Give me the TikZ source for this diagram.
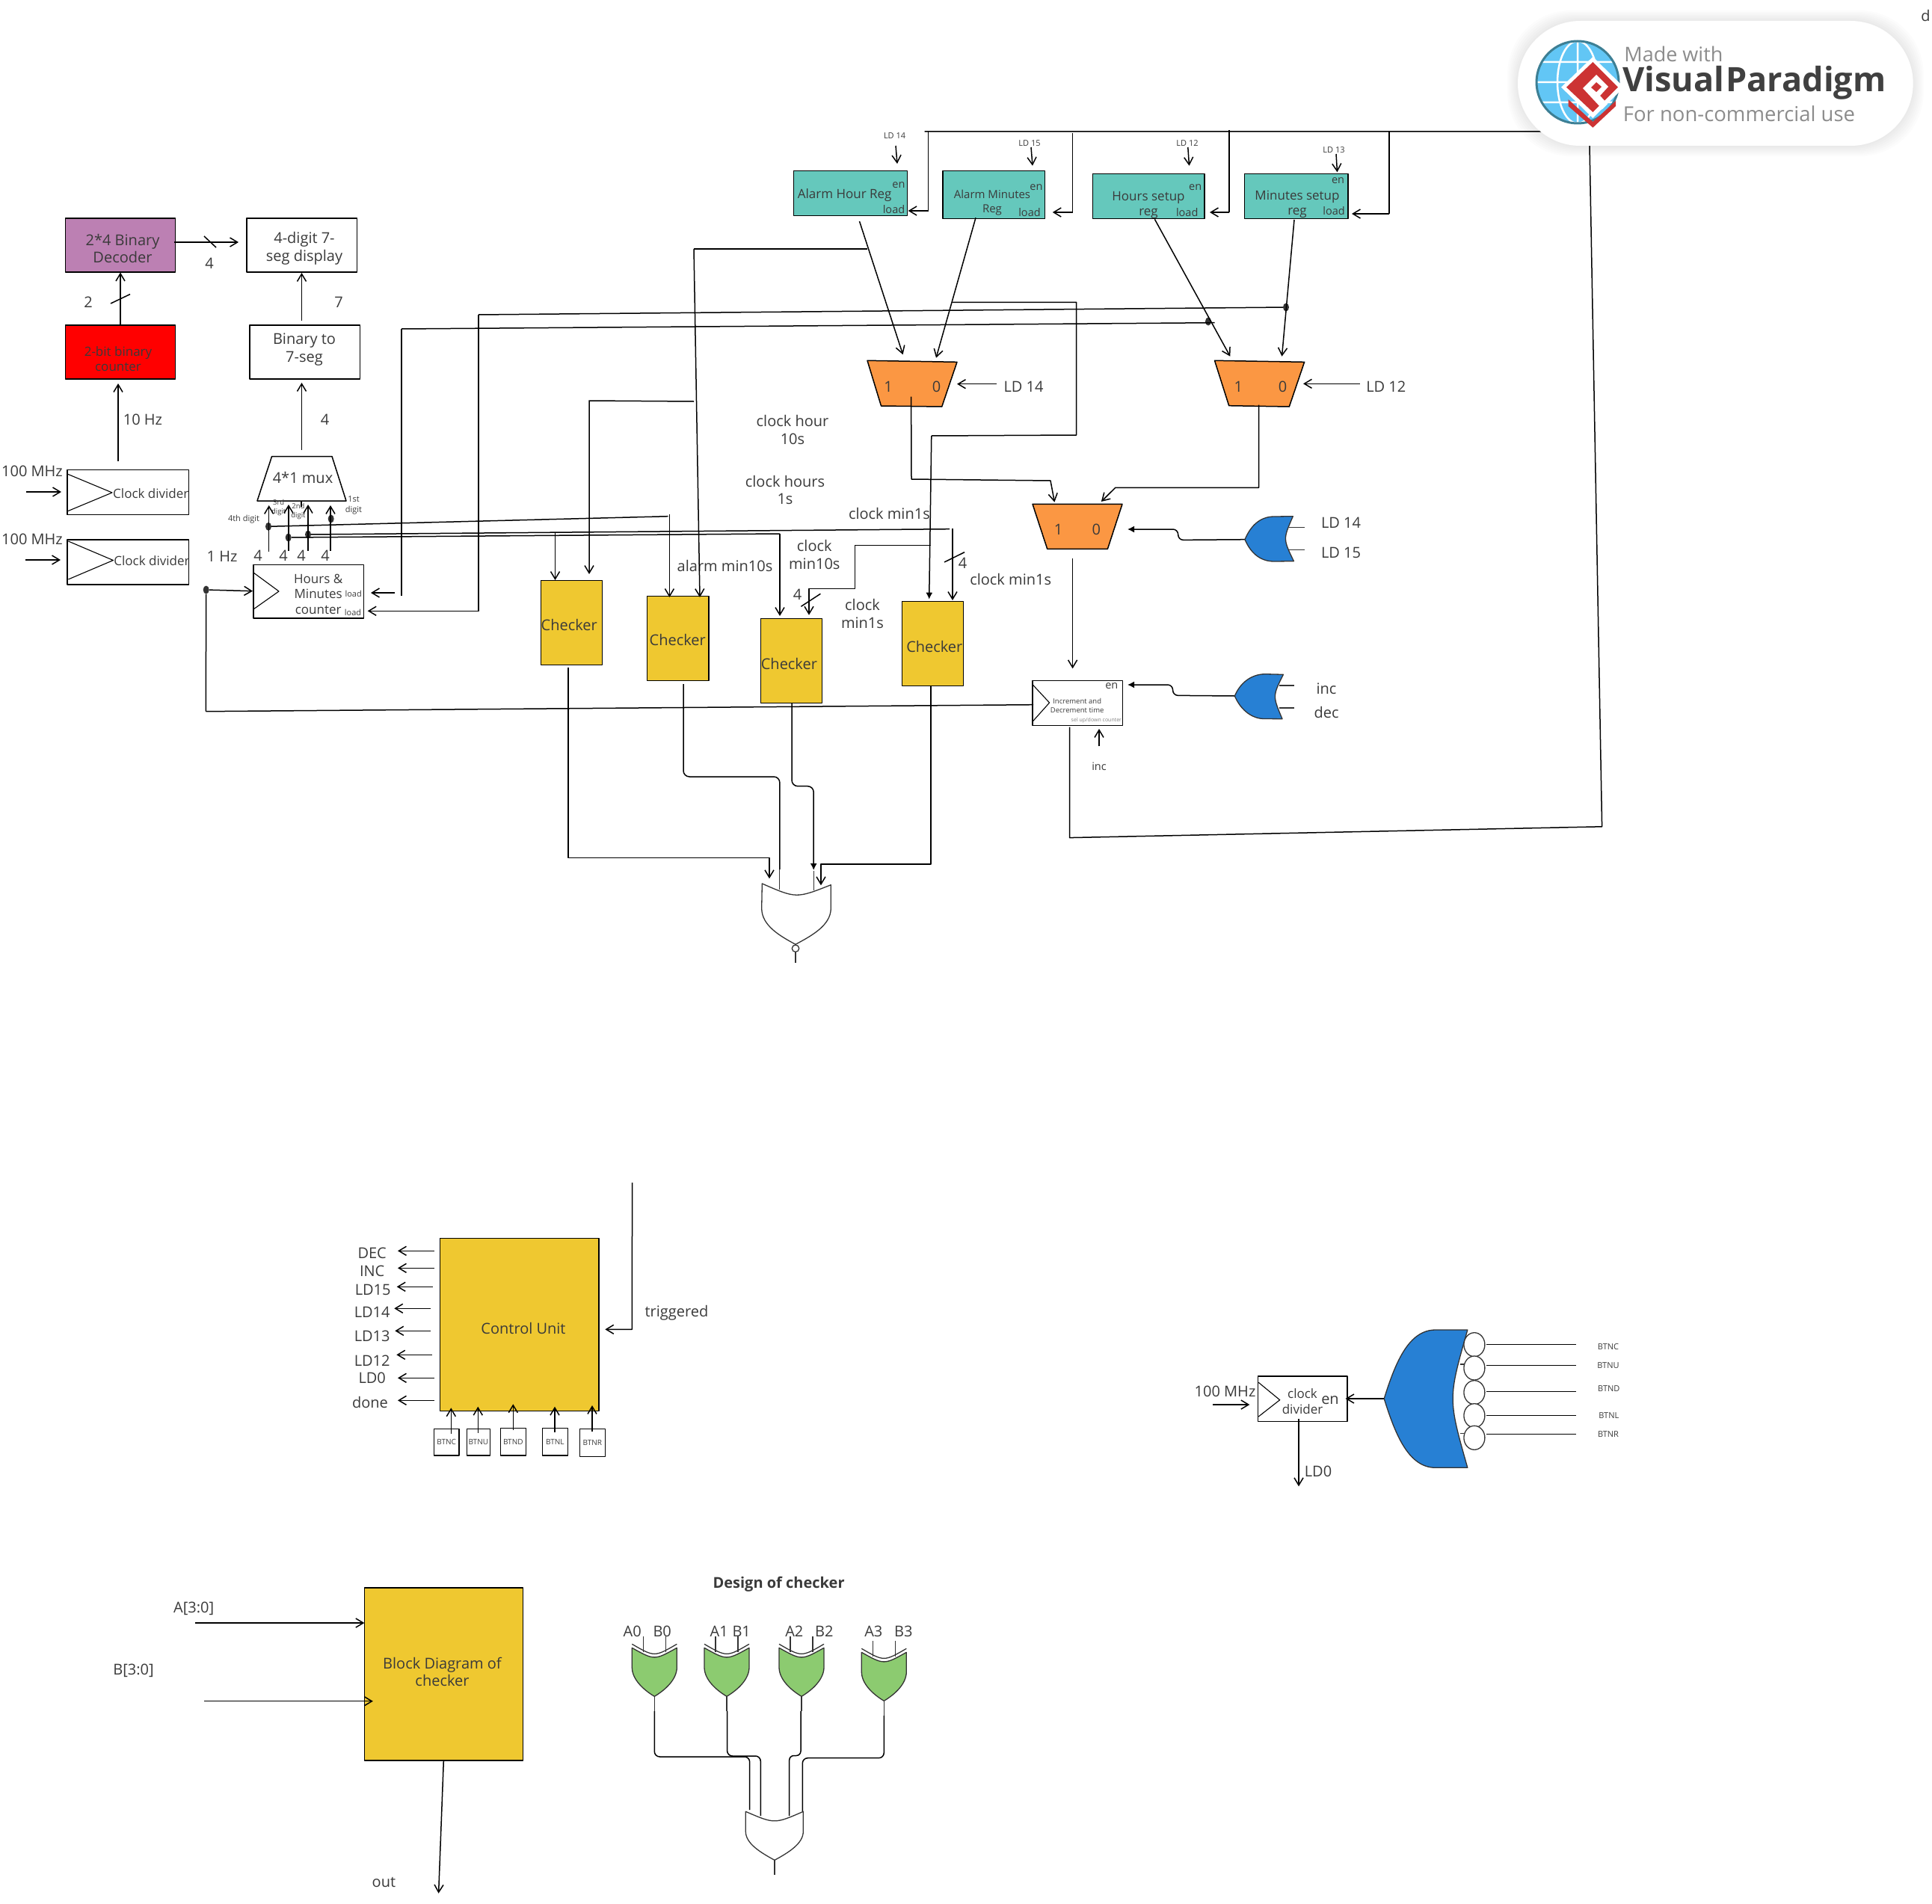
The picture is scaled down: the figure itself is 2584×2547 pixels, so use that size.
\documentclass[tikz,border=0pt]{standalone}
\usepackage{fontspec}
\setmainfont{Open Sans}
\usetikzlibrary{arrows.meta,shapes.geometric}
\definecolor{txtc}{HTML}{3A3A3A}
\definecolor{purp}{HTML}{BC80B3}
\definecolor{teal}{HTML}{65C8BC}
\definecolor{oran}{HTML}{FB9743}
\definecolor{yell}{HTML}{EFC830}
\definecolor{gren}{HTML}{8CCB70}
\definecolor{blu}{HTML}{2780D4}
\definecolor{vpblue}{HTML}{62C6F5}
\definecolor{vpring}{HTML}{3D7F94}
\definecolor{vpred}{HTML}{CC3333}
\tikzset{
	block/.style 2 args={draw,line width=1.5pt,inner sep=0,minimum width=#1pt,minimum height=#2pt,align=center,text=txtc,font=\fontsize{20}{23.5}\selectfont},
	mux/.style={draw,line width=1.5pt},
	lbl/.style={inner sep=0,yshift=-1.5pt,align=center,text=txtc,font=\fontsize{20}{23.5}\selectfont},
	lblm/.style={lbl,font=\fontsize{17}{20.5}\selectfont},
	lbln/.style={lbl,font=\fontsize{14.5}{17}\selectfont},
	lbls/.style={lbl,font=\fontsize{11}{14}\selectfont},
	lblt/.style={lbl,font=\fontsize{9.5}{12}\selectfont},
	dot/.style={ellipse,fill=black!80,inner sep=0,minimum width=8pt,minimum height=11pt},
	wire/.style={line width=1.5pt},
	thin/.style={line width=1.1pt},
	arr/.style={wire,-{Straight Barb[length=10pt,width=12pt]}},
	farr/.style={wire,-{Latex[length=9pt,width=9pt]}},
	gate/.style={line width=1.3pt,draw=black!80,line join=round},
}
\begin{document}
\begin{tikzpicture}[x=1pt,y=-1pt,line join=round]
	\useasboundingbox (0,0) rectangle (2584,2547);

	\node[block={147}{71.5},fill=purp] (dec) at (161,328) {};
	\node[block={147.5}{71.5}] (dsp) at (403.7,328) {};
	\node[block={147}{72},fill=red] (cnt) at (161,471) {};
	\node[block={147.4}{72}] (bin) at (407.7,471) {};
	\node[block={162.5}{60}] (cdA) at (171.2,658.5) {};
	\node[block={162.5}{60}] (cdB) at (171.2,752) {};
	\node[block={147.4}{71.4}] (hrs) at (412.7,791.3) {};
	\node[block={120.4}{59.7}] (inc) at (1441.2,940.5) {};
	\node[block={151.9}{59.6},fill=teal] (rgA) at (1137.6,258.5) {};
	\node[block={136.4}{63.6},fill=teal] (rgB) at (1329.2,260.5) {};
	\node[block={149.2}{60},fill=teal] (rgC) at (1536.2,262.3) {};
	\node[block={138.3}{60},fill=teal] (rgD) at (1733.6,262.3) {};
	\node[block={82.1}{113},fill=yell] (ckA) at (764.6,832.8) {};
	\node[block={82.2}{113},fill=yell] (ckB) at (906.7,853.8) {};
	\node[block={82.1}{113},fill=yell] (ckC) at (1058.6,883.8) {};
	\node[block={82.1}{113},fill=yell] (ckD) at (1247.4,860.8) {};
	\node[block={212.3}{231},fill=yell] (cu) at (694.8,1771.8) {};
	\node[block={212}{231},fill=yell] (blk) at (593.3,2239.5) {};
	\node[block={119.8}{60.3}] (cdC) at (1742.3,1871.2) {};
	\foreach \n/\cx/\cy/\w/\h/\t in {bc/597.2/1929.3/33.7/35.3/BTNC,bu/639.8/1929.3/31/35.3/BTNU,bd/686.3/1928.8/34/36.3/BTND,bl/742.3/1928.8/34/36.3/BTNL,br/792.3/1930/34/36.6/BTNR}
		\node[block={\w}{\h},font=\fontsize{10}{12}\selectfont] (\n) at (\cx,\cy) {\t};

	\draw[mux] (363.6,610.5)--(444,610.5)--(463,670)--(344,670)--cycle;
	\draw[mux,fill=oran] (1160,482.3)--(1280,484.3)--(1259.7,544)--(1178.5,543)--cycle;
	\draw[mux,fill=oran] (1624.5,482.3)--(1744.6,484.3)--(1724.3,544)--(1643.7,542.7)--cycle;
	\draw[mux,fill=oran] (1381,674.3)--(1501,674.3)--(1481.4,734.3)--(1400.7,734.3)--cycle;

	\foreach \n/\x/\y/\t in {t100a/43/629/100 MHz,t100b/43/720/100 MHz,t10/191/560/10 Hz,t1hz/297/743/1 Hz,tcu/700/1775/Control Unit,ttr/905/1755/triggered,
		ttwo/118/403/2,tfa/280/351/4,tsev/453/403/7,tfb/434.6/560/4,tfc/345/742/4,tfd/379/742/4,tfe/403/742/4,tff/435/742/4,tfg/1066.7/794/4,tfh/1287.5/751.7/4,
		tone/1188/516/1,tzero/1252.6/516/0,tonb/1656.3/516/1,tzeb/1715.6/516/0,tonc/1415.7/707.3/1,tzec/1466.4/707.3/0,tmx/405/637/4*1 mux,
		tla/1369/516/LD 14,tlb/1853.8/516/LD 12,tlc/1793.6/698.3/LD 14,tld/1793.6/738.3/LD 15,tinc/1774/920/inc,tdec/1774/951.7/dec,
		tca/761.3/834/Checker,tcb/906.2/854/Checker,tcc/1055.4/886/Checker,tcd/1249.8/863.3/Checker,
		tdc/497.7/1675/DEC,tic/497.7/1699/INC,tlf/498.7/1724/LD15,tle/497.7/1754.3/LD14,tlg/497.7/1786/LD13,tlh/497.7/1819/LD12,tli/497.7/1842.3/LD0,tdn/495/1874/done,
		tmz/1638.5/1860/100 MHz,tl0/1763/1967.3/LD0,tbk/259.2/2150.7/A[3:0],tbl/178.5/2233.3/B[3:0],tou/513.4/2516.7/out,tdd/2575.4/20/d,enf/1779/1871.7/en,
		a0/845.7/2180.7/A0,b0/885.7/2180.7/B0,a1/961.7/2180.7/A1,b1/991.7/2180.7/B1,a2/1062.3/2180.7/A2,b2/1102.3/2180.7/B2,a3/1168.3/2180.7/A3,b3/1208.3/2180.7/B3}
		\node[lbl] (\n) at (\x,\y) {\t};
	\node[lbl] (tde) at (164,331) {2*4 Binary\\Decoder};
	\node[lbl] (tds) at (407,331) {4-digit 7-\\seg display};
	\node[lbl] (tbi) at (407,466) {Binary to\\7-seg};
	\node[lbl] (tbd) at (591.5,2235) {Block Diagram of\\checker};
	\node[lbl] (tch) at (1060,573.5) {clock hour\\10s};
	\node[lbl] (thr) at (1050,654) {clock hours\\1s};
	\node[lbl] (tma) at (1189.4,685.3) {clock min1s};
	\node[lbl] (tmb) at (1089.3,740.3) {clock\\min10s};
	\node[lbl] (tmc) at (969.5,755) {alarm min10s};
	\node[lbl] (tmd) at (1153.5,819.3) {clock\\min1s};
	\node[lbl] (tme) at (1351.7,773.3) {clock min1s};
	\node[lbl,font=\bfseries\fontsize{20}{23}\selectfont] (tdg) at (1041.6,2117.7) {Design of checker};

	\node[lblm,font=\fontsize{17}{20}\selectfont] (tcn) at (158,478.6) {2-bit binary\\counter};
	\node[lblm] (tcA) at (201.8,658.8) {Clock divider};
	\node[lblm] (tcB) at (203,749) {Clock divider};
	\node[lblm] (thm) at (425.7,793) {Hours \&\\Minutes\\counter};
	\node[lblm] (tal) at (1129.7,260) {Alarm Hour Reg};
	\node[lblm,font=\fontsize{15}{19}\selectfont] (tam) at (1327,270) {Alarm Minutes\\Reg};
	\node[lblm] (ths) at (1536,273) {Hours setup\\reg};
	\node[lblm] (tms) at (1735,272) {Minutes setup\\reg};
	\node[lblm] (tdv) at (1742,1873) {clock\\divider};
	\foreach \n/\x/\y/\t in {ena/1202/245.7/en,loa/1195.5/278.7/load,enb/1386/249/en,lob/1377/282.7/load,enc/1598.7/249.3/en,loc/1587.7/283/load,end/1789.6/240.3/en,lod/1784/280.7/load,ene/1486.8/916.3/en,tin/1470/1023.3/inc}
		\node[lbln] (\n) at (\x,\y) {\t};
	\foreach \n/\x/\y/\t in {tfo/326/692.7/4th digit,lha/472.7/792.7/load,lhb/472/817.7/load,la/1196.6/180/LD 14,lb/1377/189.7/LD 15,lc/1588/189.7/LD 12,ld/1784/198.7/LD 13,
		bna/2151/1800/BTNC,bnb/2151/1825.3/BTNU,bnc/2151.8/1856/BTND,bnd/2151.8/1892/BTNL,bne/2151/1917/BTNR}
		\node[lbls] (\n) at (\x,\y) {\t};
	\node[lblt] (tth) at (372.7,678) {3rd\\digit};
	\node[lblt] (tnd) at (399,683) {2nd\\digit};
	\node[lbls] (tst) at (473,674) {1st\\digit};
	\node[lblt] (tid) at (1440.7,942) {Increment and\\Decrement time};
	\node[lbl,font=\fontsize{7}{9}\selectfont,text=black!50] (tsl) at (1466.4,961.7) {sel up/down counter};

	\foreach \n/\x/\y in {dE/275.7/789,dD/359/704.3,dC/385.7/719,dB/412/715,dA/442.7/694,dR/1616/430,dS/1720/411}
		\node[dot] (\n) at (\x,\y) {};

	\foreach \n/\x/\y in {hzA/158/617,hzB/158/513,inA/35/658,inB/82/658,inC/34/749,inD/81/749,
		slA/148/406,slB/174/393.6,slC/273/316,slD/289/331,slE/1071.4/811.3,slF/1097.4/794.3,slG/1263/752,slH/1290/738.7,
		dcA/233/324,dcB/319/324,bnA/403.5/429,bnB/403.5/365,mxO/403.5/602,mxI/403.5/512,
		dgA/359.7/738,dgB/359.7/676,dgC/386/737,dgD/386/675,dgE/412/737,dgF/412/675,dgG/442/737,dgH/442/676,
		stA/403/670,stB/403/678,hzC/338/790.7,lnE/275.3/951.7,lnF/1382/942.7,
		lnA/893.5/690.7,lnB/895.4/688,lnC/895.4/799,lnD/1270/707.7,lnG/1274/707,lnH/1274/803,lnI/742.5/712,lnJ/742.5/776,lnK/1043/714,lnL/1043/824,
		rtA/537/440,rtB/1624.5/431.7,rtC/537/797,rtD/528/793,rtE/496/793,ruA/640/421,ruB/640/817.3,ruC/491.7/817.3,
		tpA/1236.7/176,tpB/2126/176,tpC/2126/195,tpD/2142.6/1105.8,tpE/1430.5/1120.6,tpF/1430.7/972.7,
		tvA/1241.6/176,tvB/1241.6/282,tvC/1214.6/282,tvD/1434.7/178,tvE/1434.7/284,tvF/1407.8/284,tvG/1644/174,tvH/1644/284,tvI/1618/284,tvJ/1858/176,tvK/1858/286,tvL/1808/286,
		enA/1198/195,enB/1200/219,enC/1379/197,enD/1381/221.7,enE/1588.8/197,enF/1590.5/221.7,enG/1787/206,enH/1788.5/230.3,
		rgo/1149.5/296,rgi/1207.6/474.3,rho/1305/291.3,rhi/1252/478.7,rjo/1544.4/293.3,rji/1645.3/476.7,rko/1731/294,rki/1714.5/476.7,
		ldA/1332.7/513.7,ldB/1280/513.7,ldC/1818.7/513.3,ldD/1743/513.3,
		brA/1160/333,brB/928/333,brC/936/799,brD/928/537,brE/788/536,brF/788/768,
		cvA/1273.4/404.3,cvB/1439.6/404.3,cvC/1439.6/582,cvD/1245.8/583,cvE/1242.7/801.7,
		cwA/1245/729.3,cwB/1143.6/729.3,cwC/1143.6/787.3,cwD/1082/787.3,cwE/1082/822.7,
		outA/1218.6/530.7,outB/1219/641,outC/1405/643,outD/1410.4/671.7,
		oubA/1683.7/541.7,oubB/1683.6/652.3,oubC/1491.8/652.3,oubD/1472.9/671,
		oucA/1434.6/747.3,oucB/1434.6/894.3,incA/1470/998.3,incB/1470/975,
		orA/1665/721.7,orB/1575.7/722.4,orC/1575.7/708,orD/1508/708,orE/1651.4/931,orF/1568.6/930.3,orG/1568.6/916,orH/1508/916,
		cAa/760/892.7,cAb/760/1147.3,cAc/1029/1147.3,cAd/1029/1175.3,
		cBa/914/915,cBb/914/1039,cBc/1042.9/1039,cBd/1042.9/1163,cCa/1059/940.3,cCb/1059/1051.7,cCc/1088.2/1051.7,cCd/1088.2/1164,
		cDa/1245/917.3,cDb/1245/1156,cDc/1098/1156,cDd/1098/1184.3,
		trA/845.6/1582,trB/845.3/1778.3,trC/809.3/1778.3,
		mzA/1622/1879,mzB/1671.3/1879,lzA/1737/1898.3,lzB/1737/1988.3,bgT/1851/1871,bgA/1799.5/1871,
		ckA1/261/2171,ckA2/487.3/2171,ckB1/273/2275.7,ckB2/498.8/2275.7,ckO/586.6/2532.7}
		\coordinate (\n) at (\x,\y);

	\foreach \a/\b in {cnt.north/dec.south,hzA/hzB,inA/inB,inC/inD,dcA/dcB,bnA/bnB,mxO/mxI,dgA/dgB,dgC/dgD,dgE/dgF,dgG/dgH,dE/hzC,rtD/rtE,tvB/tvC,tvE/tvF,tvH/tvI,tvK/tvL,
		enA/enB,enC/enD,enE/enF,enG/enH,rgo/rgi,rho/rhi,rjo/rji,rko/rki,ldA/ldB,ldC/ldD,lnB/lnC,lnG/lnH,lnI/lnJ,lnK/lnL,oucA/oucB,incA/incB,
		mzA/mzB,lzA/lzB,bgT/bgA,ckA1/ckA2,ckB1/ckB2,blk.south/ckO}
		\draw[arr] (\a)--(\b);
	\foreach \a/\b in {slA/slB,slC/slD,slE/slF,slG/slH,stA/stB,dD/lnA,dB/lnD,dC/lnK,dE/lnE,lnE/lnF,rtC/rtA,rtA/rtB,ruA/dS,tvA/tvB,tvD/tvE,tvG/tvH,tvJ/tvK,brA/brB}
		\draw[wire] (\a)--(\b);
	\draw[wire] (tpA)--(tpB)--(tpC)--(tpD)--(tpE)--(tpF);
	\draw[arr] (ruA)--(ruB)--(ruC);
	\draw[arr] (brB)--(brC);
	\draw[arr] (brD)--(brE)--(brF);
	\draw[wire] (cvA)--(cvB)--(cvC)--(cvD);
	\draw[farr] (cvD)--(cvE);
	\draw[arr] (cwA)--(cwB)--(cwC)--(cwD)--(cwE);
	\draw[arr] (outA)--(outB)--(outC)--(outD);
	\draw[arr] (oubA)--(oubB)--(oubC)--(oubD);
	\draw[farr,rounded corners=7pt] (orA)--(orB)--(orC)--(orD);
	\draw[farr,rounded corners=7pt] (orE)--(orF)--(orG)--(orH);
	\draw[arr] (cAa)--(cAb)--(cAc)--(cAd);
	\draw[wire,rounded corners=8pt] (cBa)--(cBb)--(cBc)--(cBd);
	\draw[farr,rounded corners=8pt] (cCa)--(cCb)--(cCc)--(cCd);
	\draw[arr] (cDa)--(cDb)--(cDc)--(cDd);
	\draw[arr] (trA)--(trB)--(trC);
	\foreach \ax/\ya/\yb in {603.3/1918.3/1883.3,639.3/1916.7/1881.7,686.3/1913.3/1878.3,742/1916/1881.7,792/1915.3/1880}
		\draw[arr] (\ax,\ya)--(\ax,\yb);
	\foreach \yo/\xa/\xb in {1673.3/580.7/532,1696.3/580.7/532,1721.3/578.7/530.7,1750.3/575.7/527.3,1780.3/576/528.3,1812.3/578/530.3,1843.3/580.7/532,1873.3/580.7/532}
		\draw[arr] (\xa,\yo)--(\xb,\yo);

	\foreach \ta/\tb/\tc in {90/634/684,91.4/724/775}
		\draw[thin] (\ta,\tb)--(\ta+60,{(\tb+\tc)/2})--(\ta,\tc);
	\draw[thin] (339,766)--(373,791)--(339,815);
	\draw[thin] (1381,915.7)--(1403.6,940)--(1381,965.3);
	\draw[thin] (1683.2,1849.3)--(1711.7,1872.7)--(1683.2,1895);

	\draw[gate] (1019.3,1182) .. controls (1065,1202) .. (1111.3,1183.7)--(1111.3,1215)
		.. controls (1111.3,1238) and (1085,1252) .. (1064,1263.3) .. controls (1043,1252) and (1018.7,1238) .. (1018.7,1215)--cycle;
	\draw[gate] (1064,1268.7) circle (4.7);
	\draw[gate] (1064,1273.4)--(1064,1288.3);
	\draw[gate] (1042.7,1163)--(1042.7,1190) (1088.3,1165)--(1088.3,1190.7);

	\foreach \gx/\gy in {875.3/2204.3,972/2204.3,1072/2204.3,1182.3/2210.3}{
		\begin{scope}[shift={(\gx,\gy)}]
			\draw[gate] (-15,-15)--(-15,6) (15,-15)--(15,6);
			\draw[gate] (-30,-5) .. controls (0,12.4) .. (30,-5);
			\draw[gate,fill=gren] (-30,0) .. controls (0,16.8) .. (30,0)--(30,26)
				.. controls (30,42) and (15,56) .. (0,65) .. controls (-15,56) and (-30,42) .. (-30,26)--cycle;
			\draw[gate] (0,65)--(0,85);
		\end{scope}
	}
	\draw[wire,rounded corners=7pt] (875.3,2289)--(875.3,2350)--(1002.7,2350)--(1002.7,2421);
	\draw[wire,rounded corners=7pt] (972.6,2289)--(972.6,2349)--(1017.3,2349)--(1017.3,2429);
	\draw[wire,rounded corners=6pt] (1071,2289)--(1071,2348.5)--(1055.7,2348.5)--(1055.7,2429);
	\draw[wire,rounded corners=7pt] (1182.3,2295)--(1182.3,2351.7)--(1073.3,2351.7)--(1073.3,2423);
	\draw[gate] (997.3,2423.3) .. controls (1036,2440) .. (1074.3,2423.3)--(1074.3,2450)
		.. controls (1074.3,2466) and (1055,2478) .. (1036,2488.3) .. controls (1017,2478) and (997.3,2466) .. (997.3,2450)--cycle;
	\draw[gate] (1036,2488.3)--(1036,2508.3);

	\draw[gate] (1724,705.7)--(1745,705.7) (1724,735.7)--(1745.4,735.7);
	\draw[gate,fill=blu] (1665,721.7) .. controls (1672,705) and (1684,691) .. (1704,691)--(1729.3,690.7)
		.. controls (1716,721) .. (1730.4,750.7)--(1704,751) .. controls (1684,751) and (1672,738) .. (1665,721.7)--cycle;
	\draw[gate] (1710.7,917)--(1731.4,917) (1710.7,947)--(1731,947);
	\draw[gate,fill=blu] (1651.4,931) .. controls (1658,915) and (1672,902) .. (1691.8,901.7)--(1716.4,902.3)
		.. controls (1702,931) .. (1715,961.7)--(1690,961.5) .. controls (1672,961) and (1658,947) .. (1651.4,931)--cycle;
	\draw[gate,fill=blu] (1851.2,1871) .. controls (1867,1820) and (1885,1779) .. (1920,1779)--(1962.8,1779)
		.. controls (1936.6,1871) .. (1962.8,1963.3)--(1920,1963.3) .. controls (1885,1963.3) and (1867,1922) .. (1851.2,1871)--cycle;
	\foreach \cy/\ly in {1798.7/1798.3,1830/1826.3,1862.7/1861.7,1893.7/1893.3,1923.3/1918.7}{
		\draw[gate,fill=white] (1971.9,\cy) ellipse (14 and 16);
		\draw[wire] (1988,\ly)--(2108,\ly);
	}
	\draw[gate] (1953,1825)--(1958,1825) (1953,1917.3)--(1958.4,1917.3);

	\foreach \i in {14,12,...,2}
		\fill[black,opacity=0.012,rounded corners=85pt] (2030-\i,28-\i) rectangle (2558.7+\i,195+\i);
	\fill[white,rounded corners=83.5pt] (2030,28) rectangle (2558.7,195);
	\begin{scope}
		\clip (2110,110) circle (55);
		\fill[vpblue] (2054,54) rectangle (2166,166);
		\draw[white,line width=2.5pt] (2054,83)--(2166,83) (2054,110)--(2166,110) (2054,137)--(2166,137)
			(2110,54)--(2110,166) (2110,110) ellipse (27 and 55);
	\end{scope}
	\draw[vpring,line width=3pt] (2110,110) circle (55);
	\fill[white] (2130.4,76)--(2172,116.7)--(2130.4,158)--(2088,116.7)--cycle;
	\fill[vpred] (2130.4,83)--(2164,116.7)--(2130.4,150)--(2095,116.7)--cycle;
	\fill[vpred] (2097.6,133)--(2130.4,163)--(2161,135)--(2161,142)--(2130.4,170.7)--(2097.6,142)--cycle;
	\fill[white] (2117,118)--(2135,100)--(2151,116)--(2140,128)--(2150,139)--(2143,146)--cycle;
	\fill[vpred] (2128,117)--(2135,110)--(2142,116)--(2135,123)--cycle;
	\node[lbl,font=\fontsize{27}{31}\selectfont,text=black!45] (vpa) at (2238.4,71) {Made with};
	\node[lbl,font=\bfseries\fontsize{45}{50}\selectfont,text=black!75] (vpb) at (2346.5,109) {Visual\hspace{2pt}Paradigm};
	\node[lbl,font=\fontsize{27.5}{31}\selectfont,text=black!45] (vpc) at (2326,150.7) {For non-commercial use};
\end{tikzpicture}
\end{document}
